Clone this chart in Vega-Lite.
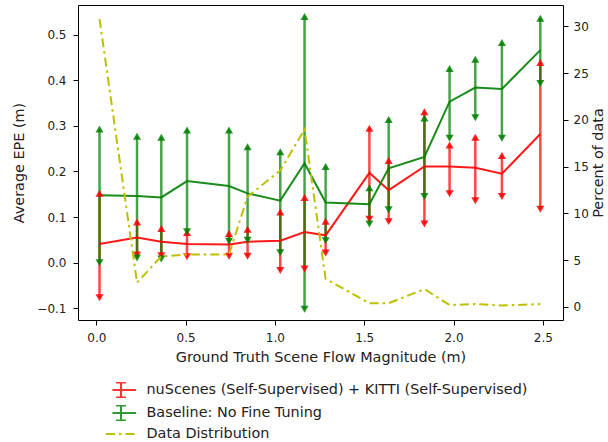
{
  "$schema": "https://vega.github.io/schema/vega-lite/v6.json",
  "width": 485,
  "height": 315,
  "autosize": {"type": "none"},
  "padding": {"left": 78, "top": 5, "right": 45, "bottom": 122},
  "background": "white",
  "config": {
    "font": "DejaVu Sans",
    "view": {"stroke": "#000", "strokeWidth": 1},
    "axis": {
      "grid": false, "domain": false, "tickColor": "#000", "tickSize": 5, "tickWidth": 1,
      "labelFont": "DejaVu Sans", "labelFontSize": 12, "labelColor": "#222",
      "titleFont": "DejaVu Sans", "titleFontSize": 14.4, "titleFontWeight": "normal", "titleColor": "#222"
    },
    "legend": {"labelFont": "DejaVu Sans", "labelFontSize": 14.4, "labelColor": "#222", "padding": 0, "labelLimit": 0}
  },
  "datasets": {
    "err": [
      {"series": "nuScenes (Self-Supervised) + KITTI (Self-Supervised)", "x": 0.018, "epe": 0.041, "lo": -0.077, "hi": 0.152},
      {"series": "nuScenes (Self-Supervised) + KITTI (Self-Supervised)", "x": 0.228, "epe": 0.055, "lo": 0.017, "hi": 0.089},
      {"series": "nuScenes (Self-Supervised) + KITTI (Self-Supervised)", "x": 0.364, "epe": 0.046, "lo": 0.015, "hi": 0.075},
      {"series": "nuScenes (Self-Supervised) + KITTI (Self-Supervised)", "x": 0.508, "epe": 0.041, "lo": 0.013, "hi": 0.066},
      {"series": "nuScenes (Self-Supervised) + KITTI (Self-Supervised)", "x": 0.743, "epe": 0.040, "lo": 0.014, "hi": 0.064},
      {"series": "nuScenes (Self-Supervised) + KITTI (Self-Supervised)", "x": 0.847, "epe": 0.046, "lo": 0.014, "hi": 0.073},
      {"series": "nuScenes (Self-Supervised) + KITTI (Self-Supervised)", "x": 1.030, "epe": 0.048, "lo": -0.017, "hi": 0.111},
      {"series": "nuScenes (Self-Supervised) + KITTI (Self-Supervised)", "x": 1.166, "epe": 0.067, "lo": -0.014, "hi": 0.143},
      {"series": "nuScenes (Self-Supervised) + KITTI (Self-Supervised)", "x": 1.284, "epe": 0.060, "lo": 0.021, "hi": 0.091},
      {"series": "nuScenes (Self-Supervised) + KITTI (Self-Supervised)", "x": 1.529, "epe": 0.197, "lo": 0.095, "hi": 0.295},
      {"series": "nuScenes (Self-Supervised) + KITTI (Self-Supervised)", "x": 1.637, "epe": 0.159, "lo": 0.090, "hi": 0.224},
      {"series": "nuScenes (Self-Supervised) + KITTI (Self-Supervised)", "x": 1.837, "epe": 0.211, "lo": 0.085, "hi": 0.331},
      {"series": "nuScenes (Self-Supervised) + KITTI (Self-Supervised)", "x": 1.978, "epe": 0.211, "lo": 0.151, "hi": 0.258},
      {"series": "nuScenes (Self-Supervised) + KITTI (Self-Supervised)", "x": 2.122, "epe": 0.208, "lo": 0.136, "hi": 0.275},
      {"series": "nuScenes (Self-Supervised) + KITTI (Self-Supervised)", "x": 2.271, "epe": 0.195, "lo": 0.145, "hi": 0.235},
      {"series": "nuScenes (Self-Supervised) + KITTI (Self-Supervised)", "x": 2.486, "epe": 0.282, "lo": 0.117, "hi": 0.439},
      {"series": "Baseline: No Fine Tuning", "x": 0.018, "epe": 0.148, "lo": 0.000, "hi": 0.293},
      {"series": "Baseline: No Fine Tuning", "x": 0.228, "epe": 0.146, "lo": 0.010, "hi": 0.277},
      {"series": "Baseline: No Fine Tuning", "x": 0.364, "epe": 0.143, "lo": 0.008, "hi": 0.275},
      {"series": "Baseline: No Fine Tuning", "x": 0.508, "epe": 0.179, "lo": 0.068, "hi": 0.291},
      {"series": "Baseline: No Fine Tuning", "x": 0.743, "epe": 0.168, "lo": 0.047, "hi": 0.291},
      {"series": "Baseline: No Fine Tuning", "x": 0.847, "epe": 0.152, "lo": 0.049, "hi": 0.254},
      {"series": "Baseline: No Fine Tuning", "x": 1.030, "epe": 0.136, "lo": 0.022, "hi": 0.243},
      {"series": "Baseline: No Fine Tuning", "x": 1.166, "epe": 0.218, "lo": -0.102, "hi": 0.540},
      {"series": "Baseline: No Fine Tuning", "x": 1.284, "epe": 0.132, "lo": 0.048, "hi": 0.211},
      {"series": "Baseline: No Fine Tuning", "x": 1.529, "epe": 0.128, "lo": 0.085, "hi": 0.164},
      {"series": "Baseline: No Fine Tuning", "x": 1.637, "epe": 0.207, "lo": 0.116, "hi": 0.314},
      {"series": "Baseline: No Fine Tuning", "x": 1.837, "epe": 0.232, "lo": 0.145, "hi": 0.317},
      {"series": "Baseline: No Fine Tuning", "x": 1.978, "epe": 0.353, "lo": 0.273, "hi": 0.426},
      {"series": "Baseline: No Fine Tuning", "x": 2.122, "epe": 0.384, "lo": 0.318, "hi": 0.446},
      {"series": "Baseline: No Fine Tuning", "x": 2.271, "epe": 0.381, "lo": 0.273, "hi": 0.483},
      {"series": "Baseline: No Fine Tuning", "x": 2.486, "epe": 0.466, "lo": 0.393, "hi": 0.536}
    ],
    "dist": [
      {"s": "Data Distribution", "x": 0.018, "pct": 30.8},
      {"s": "Data Distribution", "x": 0.228, "pct": 2.6},
      {"s": "Data Distribution", "x": 0.364, "pct": 5.4},
      {"s": "Data Distribution", "x": 0.508, "pct": 5.6},
      {"s": "Data Distribution", "x": 0.743, "pct": 5.6},
      {"s": "Data Distribution", "x": 0.847, "pct": 11.8},
      {"s": "Data Distribution", "x": 1.030, "pct": 14.6},
      {"s": "Data Distribution", "x": 1.166, "pct": 19.0},
      {"s": "Data Distribution", "x": 1.284, "pct": 3.0},
      {"s": "Data Distribution", "x": 1.529, "pct": 0.4},
      {"s": "Data Distribution", "x": 1.637, "pct": 0.4},
      {"s": "Data Distribution", "x": 1.837, "pct": 1.9},
      {"s": "Data Distribution", "x": 1.978, "pct": 0.2},
      {"s": "Data Distribution", "x": 2.122, "pct": 0.3},
      {"s": "Data Distribution", "x": 2.271, "pct": 0.15},
      {"s": "Data Distribution", "x": 2.486, "pct": 0.3}
    ]
  },
  "layer": [
    {
      "data": {"name": "err"},
      "encoding": {
        "x": {"field": "x", "type": "quantitative", "scale": {"domain": [-0.1025, 2.613], "nice": false, "zero": false},
              "axis": {"values": [0, 0.5, 1, 1.5, 2, 2.5], "format": ".1f", "labelPadding": 7, "titlePadding": 7, "title": "Ground Truth Scene Flow Magnitude (m)"}},
        "color": {"field": "series", "type": "nominal",
                  "scale": {"domain": ["nuScenes (Self-Supervised) + KITTI (Self-Supervised)", "Baseline: No Fine Tuning"], "range": ["#ff0000", "#008000"]},
                  "legend": {"orient": "none", "legendX": 34.5, "legendY": 377, "title": null,
                             "symbolType": "M-2,0H2M0,-1V1M-0.67,-1H0.67M-0.67,1H0.67", "symbolSize": 225, "symbolStrokeWidth": 2,
                             "symbolFillColor": "transparent", "symbolOpacity": 0.8, "labelOffset": 17, "rowPadding": 7, "clipHeight": 16,
                             "encode": {"symbols": {"update": {"fill": {"value": "transparent"}}}}}}
      },
      "layer": [
        {"mark": {"type": "rule", "strokeWidth": 2.5, "opacity": 0.72},
         "encoding": {"y": {"field": "lo", "type": "quantitative", "scale": {"domain": [-0.1257, 0.565], "nice": false, "zero": false},
                            "axis": {"values": [-0.1, 0, 0.1, 0.2, 0.3, 0.4, 0.5], "format": ".1f", "labelPadding": 7, "titlePadding": 10, "title": "Average EPE (m)"}},
                      "y2": {"field": "hi"}}},
        {"mark": {"type": "line", "strokeWidth": 2, "opacity": 0.9},
         "encoding": {"y": {"field": "epe", "type": "quantitative", "axis": {"values": [-0.1, 0, 0.1, 0.2, 0.3, 0.4, 0.5], "format": ".1f", "labelPadding": 7, "titlePadding": 10, "title": "Average EPE (m)"}}}},
        {"mark": {"type": "point", "shape": "triangle-up", "filled": true, "size": 65, "opacity": 0.85},
         "encoding": {"y": {"field": "hi", "type": "quantitative", "axis": {"values": [-0.1, 0, 0.1, 0.2, 0.3, 0.4, 0.5], "format": ".1f", "labelPadding": 7, "titlePadding": 10, "title": "Average EPE (m)"}}}},
        {"mark": {"type": "point", "shape": "triangle-down", "filled": true, "size": 65, "opacity": 0.85},
         "encoding": {"y": {"field": "lo", "type": "quantitative", "axis": {"values": [-0.1, 0, 0.1, 0.2, 0.3, 0.4, 0.5], "format": ".1f", "labelPadding": 7, "titlePadding": 10, "title": "Average EPE (m)"}}}}
      ]
    },
    {
      "data": {"name": "dist"},
      "mark": {"type": "line", "color": "#bfbf00", "strokeWidth": 2},
      "encoding": {
        "x": {"field": "x", "type": "quantitative"},
        "y": {"field": "pct", "type": "quantitative", "scale": {"domain": [-1.4, 32.3], "nice": false, "zero": false},
              "axis": {"orient": "right", "values": [0, 5, 10, 15, 20, 25, 30], "labelPadding": 5, "title": "Percent of data", "titleAngle": -90, "titleBaseline": "top", "titlePadding": 3}},
        "strokeDash": {"field": "s", "type": "nominal", "scale": {"domain": ["Data Distribution"], "range": [[9, 4, 2.5, 4]]},
                       "legend": {"orient": "none", "legendX": 34.5, "legendY": 420.5, "title": null,
                                  "symbolType": "M-2,0H2", "symbolSize": 225, "symbolStrokeWidth": 2, "symbolStrokeColor": "#bfbf00",
                                  "labelOffset": 17}}
      }
    }
  ],
  "resolve": {"scale": {"y": "independent"}}
}
